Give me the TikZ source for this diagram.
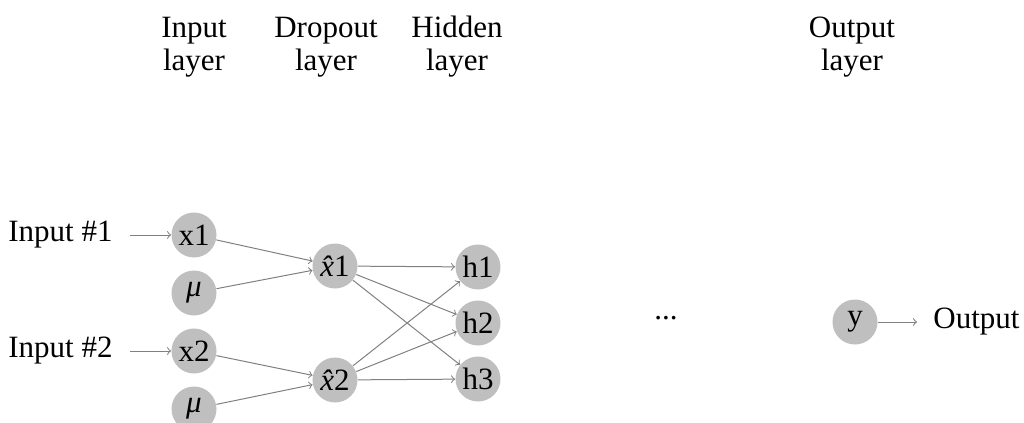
\documentclass[tikz,border=0pt]{standalone}
\usepackage{fontspec}
\setmainfont{Liberation Serif}
\begin{document}
\begin{tikzpicture}[x=0.5pt,y=-0.5pt,
  neuron/.style={circle,fill=black!25,minimum size=22.5pt,inner sep=0pt,font=\fontsize{15.5}{18}\selectfont},
  lbl/.style={font=\fontsize{15.5}{18}\selectfont},
  head/.style={align=center,font=\fontsize{15.5}{16.5}\selectfont},
  edge/.style={->,draw=black!50,line width=0.5pt}]
\useasboundingbox (0,0) rectangle (1024,423);
% layer headings
\node[head] (hin)  at (194,47) {Input\\layer};
\node[head] (hdr)  at (326,47) {Dropout\\layer};
\node[head] (hhid) at (457,47) {Hidden\\layer};
\node[head] (hout) at (852,47) {Output\\layer};
% input layer
\node[neuron] (x1)  at (194,235) {x1};
\node[neuron] (m1)  at (194,293) {{\itshape μ}};
\node[neuron] (x2)  at (194,351) {x2};
\node[neuron] (m2)  at (194,409) {{\itshape μ}};
% dropout layer
\node[neuron] (d1) at (335,266) {{\itshape x̂}1};
\node[neuron] (d2) at (335,380) {{\itshape x̂}2};
% hidden layer
\node[neuron] (h1) at (478,267) {h1};
\node[neuron] (h2) at (478,323) {h2};
\node[neuron] (h3) at (478,379) {h3};
% output
\node[lbl] (dots) at (666,318) {...};
\node[neuron] (y) at (855,322) {y};
% external labels
\node[lbl,anchor=east,inner xsep=8.5pt] (in1) at (130,235) {Input \#1};
\node[lbl,anchor=east,inner xsep=8.5pt] (in2) at (130,351) {Input \#2};
\node[lbl,anchor=west,inner xsep=8pt] (out) at (917,322) {Output};
% connections
\draw[edge] (in1) -- (x1);
\draw[edge] (in2) -- (x2);
\draw[edge] (x1) -- (d1);
\draw[edge] (m1) -- (d1);
\draw[edge] (x2) -- (d2);
\draw[edge] (m2) -- (d2);
\foreach \s in {d1,d2}
  \foreach \t in {h1,h2,h3}
    \draw[edge] (\s) -- (\t);
\draw[edge] (y) -- (out);
\end{tikzpicture}
\end{document}
